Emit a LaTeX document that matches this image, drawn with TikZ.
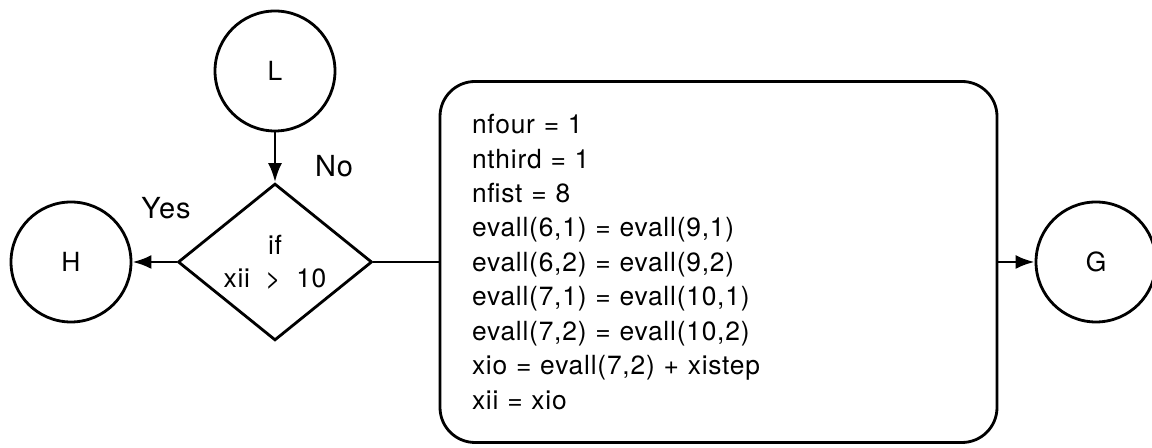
\documentclass[tikz,border=0pt]{standalone}
\usepackage{fontspec}
\setmainfont{TeX Gyre Heros}[LetterSpace=3,WordSpace=1.9]
\usepackage{tikz}
\usetikzlibrary{shapes.geometric}
\usetikzlibrary{arrows.meta}
\tikzset{
  conn/.style={shape=circle,draw,line width=1.6pt,minimum size=2.4cm,inner sep=0pt,font=\fontsize{15}{18}\selectfont},
  decide/.style={shape=diamond,draw,line width=1.6pt,minimum width=3.88cm,minimum height=2.4cm,inner sep=0pt,align=center,font=\fontsize{15}{18.7}\selectfont},
  procbox/.style={draw,line width=1.6pt,rounded corners=0.7cm,minimum width=11.14cm,minimum height=7.22cm,text width=9.86cm,inner xsep=0.64cm,align=left,font=\fontsize{15}{19.6}\selectfont},
  flow/.style={line width=1.6pt,-{Latex[length=0.38cm,width=0.28cm]}},
  lbl/.style={font=\fontsize{16.5}{19}\selectfont}
}
\newcommand{\connector}[3]{\node[conn] (#1) at (#2) {#3};}

\begin{document}
\begin{tikzpicture}
        \useasboundingbox (0,0) rectangle (23.04,8.96);
        % connectors
        \connector{L}{5.50,7.54}{L}
        \connector{H}{1.42,3.72}{H}
        \connector{G}{21.92,3.72}{G}

        % test and block
        \node[decide] (test) at (5.50,3.72) {if\\xii > 10};
        \node[procbox] (block) at (14.37,3.72) {nfour = 1\\
            nthird = 1\\
            nfist = 8\\
            evall(6,1) = evall(9,1)\\
            evall(6,2) = evall(9,2)\\
            evall(7,1) = evall(10,1)\\
            evall(7,2) = evall(10,2)\\
            xio = evall(7,2) + xistep\\
            xii = xio};

        \draw[flow] (L) -- (test.north);
        \draw[flow] (test.west) -- (H);
        \draw[line width=1.6pt] (test.east) -- (block.west);
        \draw[flow] (block.east) -- (G);

        \node[lbl] (no) at (6.68,5.64) {No};
        \node[lbl] (yes) at (3.32,4.80) {Yes};
    \end{tikzpicture}
\end{document}
